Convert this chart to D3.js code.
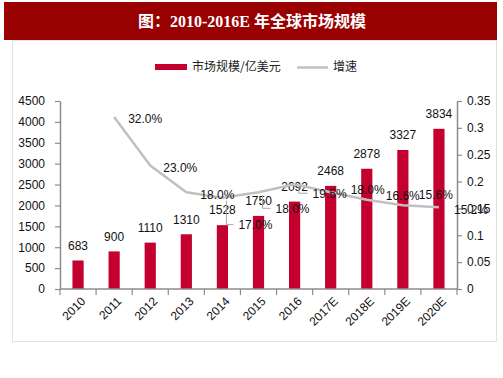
<!DOCTYPE html>
<html><head><meta charset="utf-8">
<script src="https://cdn.jsdelivr.net/npm/d3@7"></script>
<style>html,body{margin:0;padding:0;background:#fff;}svg{display:block;}</style>
</head><body>
<script>
const years = ["2010","2011","2012","2013","2014","2015","2016","2017E","2018E","2019E","2020E"];
const marketSize = [683,900,1110,1310,1528,1750,2092,2468,2878,3327,3834];
const growthYears = ["2011","2012","2013","2014","2015","2016","2017E","2018E","2019E","2020E"];
const growth = [0.32,0.23,0.18,0.17,0.18,0.195,0.18,0.166,0.156,0.152];
const leftTicks = [0,500,1000,1500,2000,2500,3000,3500,4000,4500];
const rightTicks = [0,0.05,0.1,0.15,0.2,0.25,0.3,0.35];
const titleText = "图：2010-2016E 年全球市场规模";
const legendBar = "市场规模/亿美元";
const legendLine = "增速";
// label offsets (layout only) relative to each growth point
const growthLabelOffsets = [[14,2],[13,2],[14,2],[16,27],[17,16],[18,9],[20,-3],[19,-4],[16,-11],[15,2]];

const W=503,H=378;
const svg=d3.select("body").append("svg").attr("width",W).attr("height",H);
const numFont="'Liberation Sans', Arial, sans-serif";
const cjkFont="'Noto Sans CJK SC', sans-serif";

// title bar
svg.append("rect").attr("x",4).attr("y",2).attr("width",493).attr("height",38).attr("fill","#990000");
svg.append("text").attr("x",252).attr("y",21).attr("dy","0.36em").attr("text-anchor","middle")
  .attr("fill","#fff").attr("font-weight","bold").attr("font-size",16)
  .attr("font-family","'Liberation Serif','Noto Sans CJK SC',serif").text(titleText);
// chart frame
svg.append("rect").attr("x",12.5).attr("y",40.5).attr("width",484).attr("height",301)
  .attr("fill","none").attr("stroke","#e3e3e3");

const x=d3.scaleBand().domain(years).range([60,457]).paddingInner(0.69).paddingOuter(0.345);
const y=d3.scaleLinear().domain([0,4500]).range([289,101]);
const y2=d3.scaleLinear().domain([0,0.35]).range([289,101]);
const axisColor="#8c8c8c";

// bars
svg.append("g").selectAll("rect").data(marketSize).join("rect")
  .attr("x",(d,i)=>x(years[i])).attr("y",d=>y(d)).attr("width",x.bandwidth())
  .attr("height",d=>y(0)-y(d)).attr("fill","#c4002f");
// bar labels
svg.append("g").selectAll("text").data(marketSize).join("text")
  .attr("x",(d,i)=>x(years[i])+x.bandwidth()/2).attr("y",d=>y(d)-15).attr("dy","0.36em")
  .attr("text-anchor","middle").attr("font-size",12).attr("font-family",numFont).attr("fill","#111")
  .text(d=>d);

// axes
function styleAxis(g){g.select(".domain").attr("stroke",axisColor).attr("stroke-width",1.5);
  g.selectAll(".tick line").attr("stroke",axisColor).attr("stroke-width",1.2);
  g.selectAll("text").attr("font-size",12).attr("font-family",numFont).attr("fill","#111");}
const gl=svg.append("g").attr("transform","translate(60,0)")
  .call(d3.axisLeft(y).tickValues(leftTicks).tickSize(5).tickSizeOuter(0).tickPadding(10).tickFormat(d=>String(d)));
styleAxis(gl);
const gr=svg.append("g").attr("transform","translate(457,0)")
  .call(d3.axisRight(y2).tickValues(rightTicks).tickSize(5).tickSizeOuter(0).tickPadding(5).tickFormat(d=>String(+d.toFixed(2))));
styleAxis(gr);
// x axis
const xTickPos=d3.range(years.length+1).map(i=>60+i*x.step());
svg.append("line").attr("x1",60).attr("x2",457).attr("y1",289).attr("y2",289).attr("stroke",axisColor).attr("stroke-width",1.5);
svg.append("g").selectAll("line").data(xTickPos).join("line")
  .attr("x1",d=>d).attr("x2",d=>d).attr("y1",289).attr("y2",295).attr("stroke",axisColor).attr("stroke-width",1.2);
svg.append("g").selectAll("text").data(years).join("text")
  .attr("transform",d=>`translate(${x(d)+x.bandwidth()/2+5},${299}) rotate(-45)`)
  .attr("text-anchor","end").attr("dy","0.36em").attr("font-size",12).attr("font-family",numFont).attr("fill","#111")
  .text(d=>d);

// growth line
const px=(d,i)=>x(growthYears[i])+x.bandwidth()/2;
const line=d3.line().x((d,i)=>px(d,i)).y(d=>y2(d));
svg.append("path").datum(growth).attr("d",line).attr("fill","none").attr("stroke","#c0c0c0")
  .attr("stroke-width",2.5).attr("stroke-linejoin","round");
// leader lines for offset labels
[3,4,5].forEach(i=>{
  const x0=px(growth[i],i), yy=y2(growth[i]);
  const [dx,dy]=growthLabelOffsets[i];
  svg.append("polyline").attr("points",`${x0+4},${yy+3} ${x0+4},${yy+dy} ${x0+dx-5},${yy+dy}`)
    .attr("fill","none").attr("stroke","#a6a6a6").attr("stroke-width",1);
});
svg.append("g").selectAll("text").data(growth).join("text")
  .attr("x",(d,i)=>px(d,i)+growthLabelOffsets[i][0]).attr("y",(d,i)=>y2(d)+growthLabelOffsets[i][1])
  .attr("dy","0.36em").attr("font-size",12).attr("font-family",numFont).attr("fill","#111")
  .text(d=>(d*100).toFixed(1)+"%");

// legend
svg.append("rect").attr("x",155).attr("y",64).attr("width",32).attr("height",6).attr("fill","#c4002f");
svg.append("text").attr("x",192).attr("y",67).attr("dy","0.36em").attr("font-size",12)
  .attr("font-family",cjkFont).attr("fill","#222").text(legendBar);
svg.append("line").attr("x1",297).attr("x2",328).attr("y1",67.5).attr("y2",67.5).attr("stroke","#c0c0c0").attr("stroke-width",2.5);
svg.append("text").attr("x",333).attr("y",67).attr("dy","0.36em").attr("font-size",12)
  .attr("font-family",cjkFont).attr("fill","#222").text(legendLine);
</script>
</body></html>
